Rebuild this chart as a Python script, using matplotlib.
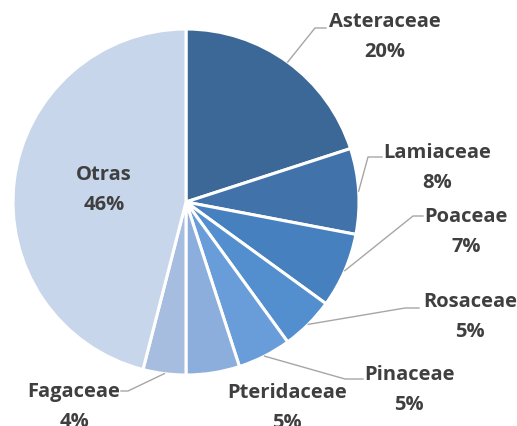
import numpy as np
import matplotlib.pyplot as plt

families = ["Asteraceae", "Lamiaceae", "Poaceae", "Rosaceae",
            "Pinaceae", "Pteridaceae", "Fagaceae", "Otras"]
shares = [20, 8, 7, 5, 5, 5, 4, 46]
colors = ["#3c6898", "#4272aa", "#4680be", "#538ecf",
          "#689dda", "#8caedc", "#a7bde0", "#c8d6eb"]

# label anchor (name centre, px from top-left) and leader elbow/end points
label_pos = {
    "Asteraceae": (385, 22), "Lamiaceae": (437, 153), "Poaceae": (466, 217),
    "Rosaceae": (470, 302), "Pinaceae": (409, 375), "Pteridaceae": (287, 393),
    "Fagaceae": (74, 392), "Otras": (104, 175),
}
leaders = {
    "Asteraceae": [(315, 29), (326, 29)],
    "Lamiaceae": [(368, 158), (382, 158)],
    "Poaceae": [(413, 217), (423, 217)],
    "Rosaceae": [(405, 309), (419, 309)],
    "Pinaceae": [(345, 380), (363, 380)],
    "Fagaceae": [(128, 392), (121, 392)],
}

W, H = 517, 427
fig = plt.figure(figsize=(W / 100, H / 100), dpi=100)
ax = fig.add_axes([0, 0, 1, 1])

cx, cy, r = 186, 203, 173
wedges, _ = ax.pie(shares, colors=colors, startangle=90, counterclock=False,
                   center=(cx, H - cy), radius=r, frame=True,
                   wedgeprops=dict(edgecolor="white", linewidth=2.2))
ax.set_xlim(0, W)
ax.set_ylim(0, H)
ax.set_aspect("equal")
ax.axis("off")

font = dict(family="Open Sans", weight="bold", fontsize=14.5, color="#3f3f3f")
for w, name, val in zip(wedges, families, shares):
    lx, ly = label_pos[name]
    ax.text(lx, H - ly, name, ha="center", va="center", **font)
    ax.text(lx, H - ly - 30, f"{val}%", ha="center", va="center", **font)
    if name in leaders:
        ang = np.deg2rad((w.theta1 + w.theta2) / 2)
        sx, sy = cx + r * np.cos(ang), (H - cy) + r * np.sin(ang)
        pts = [(sx, sy)] + [(x, H - y) for x, y in leaders[name]]
        xs, ys = zip(*pts)
        ax.plot(xs, ys, color="#a6a6a6", lw=1)

fig.savefig("out.png", dpi=100)
